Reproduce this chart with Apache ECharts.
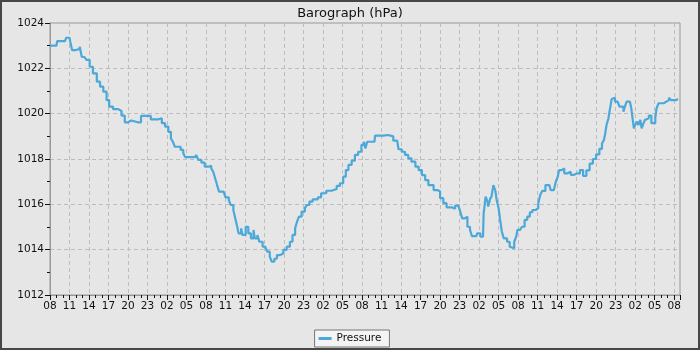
<!DOCTYPE html>
<html>
<head>
<meta charset="utf-8">
<script src="https://cdn.jsdelivr.net/npm/echarts@6/dist/echarts.min.js"></script>
<style>
  html, body { margin: 0; padding: 0; background: #e6e6e6; }
  #main {
    width: 700px; height: 350px; box-sizing: border-box;
    border: 2px solid #474747;
    box-shadow: inset 0 0 0 1px #f5f5f5;
  }
</style>
</head>
<body>
<div id="main"></div>
<script>
// hours since 08:00 on the first day
var hours = [
  0, 1.0, 1.1, 2.3, 2.5, 3.0, 3.1, 3.4, 3.9, 4.0, 4.5, 4.6, 4.7, 4.9, 5.3, 5.6, 6.1, 6.6, 7.2, 7.7,
  8.2, 8.7, 9.1, 9.7, 10.5, 11.0, 11.5, 12.0, 12.5, 12.8, 13.5, 14.0, 15.0, 15.5, 16.7, 17.2, 17.7, 18.2, 18.6, 18.9,
  19.2, 19.7, 20.1, 20.5, 20.8, 22.3, 22.5, 22.8, 23.3, 23.8, 24.4, 24.8, 25.1, 25.4, 25.7, 26.0, 26.7, 27.0, 27.5, 27.8,
  28.2, 28.5, 28.8, 29.0, 29.4, 29.6, 30.1, 30.5, 30.9, 31.3, 31.5, 31.9, 32.2, 32.7, 33.1, 33.4, 33.8, 34.1, 34.5, 34.9,
  35.4, 35.9, 36.4, 36.9, 37.3, 37.7, 38.0, 38.3, 38.7, 39.2, 39.5, 39.9, 40.4, 41.2, 41.7, 42.5, 43.3, 44.1, 44.6, 45.1,
  45.5, 45.9, 46.4, 46.9, 47.4, 47.9, 48.3, 48.5, 48.8, 49.9, 50.0, 50.8, 51.3, 52.0, 52.3, 52.8, 53.4, 53.6, 54.1, 54.6,
  55.1, 55.6, 56.2, 56.7, 57.2, 57.7, 58.2, 59.0, 59.6, 60.0, 60.5, 61.0, 61.8, 62.3, 62.8, 63.1, 63.4, 63.8, 64.2, 64.6,
  64.9, 65.6, 65.7, 66.0, 66.2, 66.6, 66.7, 66.8, 67.0, 67.3, 67.4, 67.7, 67.9, 68.2, 68.5, 68.7, 69.0, 69.2, 69.5, 69.8,
  70.3, 70.7, 71.0, 71.4, 71.7, 71.9, 72.3, 72.6, 73.0, 73.4, 73.8, 74.2, 74.7, 75.1, 75.4, 75.7, 76.2, 76.8, 77.0, 77.5,
  77.8, 78.1, 78.3, 78.7, 79.1, 79.6, 80.1, 80.6, 81.1, 81.5, 82.0, 82.5, 83.0, 83.5, 84.0, 84.5, 84.9, 85.2, 85.4, 85.6,
  85.9, 86.1, 86.4, 86.7, 86.9, 87.3, 87.6, 87.9, 88.2, 88.5, 88.7, 89.2, 89.4, 89.6, 89.8, 90.0, 90.3, 90.5, 90.8, 91.0,
  91.3, 91.5, 91.8, 92.1, 92.5, 92.8, 93.1, 93.3, 93.6, 94.0, 94.4, 94.8, 95.2, 95.5, 96.3, 96.6
];
var pressure = [
  1023.0, 1023.0, 1023.2, 1023.2, 1023.35, 1023.35, 1023.2, 1022.8, 1022.8, 1022.85, 1022.85, 1022.95, 1022.75, 1022.5, 1022.5, 1022.37, 1022.07, 1021.78, 1021.41, 1021.19,
  1020.97, 1020.6, 1020.31, 1020.2, 1020.12, 1019.91, 1019.62, 1019.7, 1019.76, 1019.62, 1019.62, 1019.9, 1019.9, 1019.75, 1019.8, 1019.58, 1019.43, 1019.2, 1018.91, 1018.76,
  1018.54, 1018.54, 1018.4, 1018.25, 1018.08, 1018.08, 1018.17, 1017.96, 1017.84, 1017.66, 1017.7, 1017.59, 1017.44, 1017.15, 1016.85, 1016.56, 1016.49, 1016.31, 1016.19, 1015.97,
  1015.75, 1015.38, 1015.01, 1014.72, 1014.94, 1014.65, 1015.01, 1014.72, 1014.5, 1014.87, 1014.5, 1014.65, 1014.35, 1014.13, 1014.08, 1013.91, 1013.69, 1013.47, 1013.6, 1013.76,
  1013.84, 1013.99, 1014.13, 1014.35, 1014.65, 1014.94, 1015.24, 1015.46, 1015.68, 1015.83, 1015.97, 1016.12, 1016.22, 1016.31, 1016.49, 1016.6, 1016.68, 1016.81, 1016.93, 1017.22,
  1017.51, 1017.74, 1017.93, 1018.18, 1018.32, 1018.62, 1018.76, 1018.47, 1018.76, 1018.76, 1019.03, 1019.03, 1019.06, 1019.06, 1019.0, 1018.81, 1018.81, 1018.43, 1018.32, 1018.18,
  1018.03, 1017.88, 1017.66, 1017.51, 1017.29, 1017.07, 1016.85, 1016.63, 1016.57, 1016.27, 1016.05, 1015.87, 1015.8, 1015.94, 1015.94, 1015.68, 1015.38, 1015.45, 1015.01, 1014.87,
  1014.6, 1014.57, 1014.72, 1014.72, 1014.57, 1014.57, 1015.6, 1015.83, 1016.34, 1016.12, 1015.9, 1016.24, 1016.34, 1016.85, 1016.6, 1016.19, 1015.83, 1015.38, 1014.79, 1014.5,
  1014.35, 1014.13, 1014.06, 1014.35, 1014.57, 1014.87, 1014.8, 1015.01, 1015.31, 1015.46, 1015.65, 1015.75, 1015.83, 1016.05, 1016.41, 1016.59, 1016.85, 1016.78, 1016.63, 1016.63,
  1017.0, 1017.22, 1017.51, 1017.58, 1017.37, 1017.44, 1017.3, 1017.37, 1017.35, 1017.51, 1017.25, 1017.5, 1017.8, 1018.0, 1018.2, 1018.45, 1018.69, 1018.84, 1019.13, 1019.5,
  1019.8, 1020.16, 1020.65, 1020.7, 1020.53, 1020.5, 1020.31, 1020.31, 1020.09, 1020.38, 1020.53, 1020.53, 1020.24, 1019.8, 1019.35, 1019.5, 1019.65, 1019.5, 1019.72, 1019.35,
  1019.58, 1019.72, 1019.8, 1019.91, 1019.58, 1019.58, 1019.8, 1020.24, 1020.46, 1020.46, 1020.53, 1020.6, 1020.7, 1020.6, 1020.65, 1020.65
];
var startHour = 8;

var points = [];
for (var i = 0; i < hours.length; i++) {
  points.push([hours[i], pressure[i]]);
}

var myChart = echarts.init(document.getElementById('main'));
var font = 'DejaVu Sans';
var option = {
  animation: false,
  backgroundColor: '#e6e6e6',
  title: {
    text: 'Barograph (hPa)', left: 'center', top: 0,
    textStyle: { fontFamily: font, fontSize: 13, fontWeight: 'normal', color: '#111' }
  },
  grid: {
    left: 48, right: 18, top: 21, bottom: 53,
    show: true, borderColor: '#999', borderWidth: 1, backgroundColor: 'transparent'
  },
  legend: {
    data: ['Pressure'], bottom: 1, left: 'center',
    backgroundColor: '#f4f4f4', borderColor: '#777', borderWidth: 1, borderRadius: 0,
    padding: [3, 8, 3, 4],
    icon: 'rect', itemWidth: 13, itemHeight: 3, itemGap: 6,
    textStyle: { fontFamily: font, fontSize: 10.5, color: '#111' }
  },
  xAxis: {
    type: 'value', min: 0, max: 96.9, interval: 3,
    axisLine: { lineStyle: { color: '#999' } },
    axisTick: { length: 5, lineStyle: { color: '#111' } },
    minorTick: { show: true, splitNumber: 3, length: 3, lineStyle: { color: '#111' } },
    splitLine: { lineStyle: { color: '#bdbdbd', type: [4, 3] } },
    axisLabel: {
      fontFamily: font, fontSize: 10.5, color: '#111', margin: 6, showMaxLabel: false,
      formatter: function (v) {
        if (Math.abs(v % 3) > 1e-6) return '';
        var h = (startHour + v) % 24;
        return (h < 10 ? '0' : '') + h;
      }
    }
  },
  yAxis: {
    type: 'value', min: 1012, max: 1024, interval: 2,
    axisLine: { show: true, lineStyle: { color: '#999' } },
    axisTick: { show: true, length: 5, lineStyle: { color: '#111' } },
    minorTick: { show: true, splitNumber: 2, length: 3, lineStyle: { color: '#111' } },
    splitLine: { lineStyle: { color: '#bdbdbd', type: [4, 3] } },
    axisLabel: {
      fontFamily: font, fontSize: 10.5, color: '#111', margin: 6,
      formatter: function (v) { return String(v); }
    }
  },
  series: [{
    name: 'Pressure', type: 'line', data: points,
    step: 'end', symbol: 'none',
    itemStyle: { color: '#4ba8d8' },
    lineStyle: { color: '#4ba8d8', width: 2.2 }
  }]
};
myChart.setOption(option);
</script>
</body>
</html>
